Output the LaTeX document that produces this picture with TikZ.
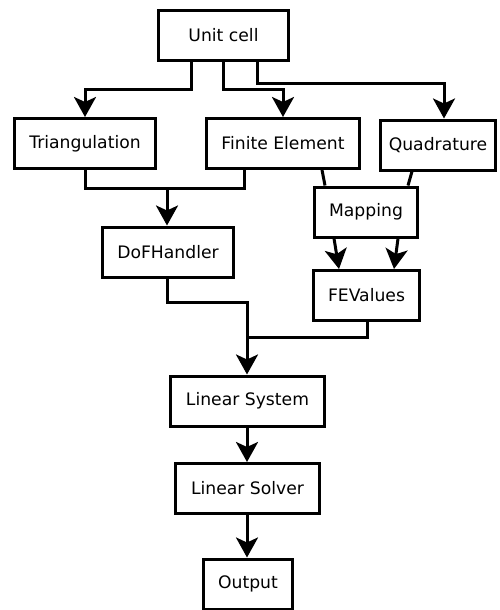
\documentclass[tikz,border=0pt]{standalone}
\usepackage{fontspec}
\setmainfont{DejaVu Sans}
\usetikzlibrary{arrows.meta}
\begin{document}
\begin{tikzpicture}[x=1pt,y=-1pt,
  box/.style={draw,line width=3pt,minimum height=50pt,inner sep=0pt,
    font=\fontsize{17.2pt}{20pt}\selectfont},
  link/.style={line width=3pt,line join=miter},
  arr/.style={link,-{Stealth[length=20pt,width=22pt,inset=5pt]}}]
\useasboundingbox (0,0) rectangle (499,610);
% boxes
\node[box,minimum width=130pt] (uc)  at (223.5,35.5) {Unit cell};
\node[box,minimum width=141pt] (tri) at (85,143.5)   {Triangulation};
\node[box,minimum width=153pt] (fe)  at (283,143.5)  {Finite Element};
\node[box,minimum width=115pt] (quad) at (438,145)   {Quadrature};
\node[box,minimum width=103pt] (map) at (366,212)    {Mapping};
\node[box,minimum width=131pt] (dof) at (168,252)    {DoFHandler};
\node[box,minimum width=106pt] (fev) at (366.5,295.5) {FEValues};
\node[box,minimum width=154pt] (ls)  at (247.5,401)  {Linear System};
\node[box,minimum width=144pt] (lsv) at (247.5,488.5) {Linear Solver};
\node[box,minimum width=89pt]  (out) at (248,584)    {Output};
% unit cell feeds the three inputs
\draw[arr] (191,0 |- uc.south) -- (191,89) -| (tri.north);
\draw[arr] (223,0 |- uc.south) -- (223,89) -| (fe.north);
\draw[arr] (257,0 |- uc.south) -- (257,83) -| (444,0 |- quad.north);
% triangulation + finite element -> DoF handler
\draw[link] (tri.south) |- (244,188) -- (244,0 |- fe.south);
\draw[arr] (167,188) -- (167,0 |- dof.north);
% finite element + quadrature -> mapping -> FEValues
\draw[link] (322,0 |- fe.south) -- (325,0 |- map.north);
\draw[link] (412,0 |- quad.south) -- (408,0 |- map.north);
\draw[arr] (334,0 |- map.south) -- (339,0 |- fev.north);
\draw[arr] (398,0 |- map.south) -- (394,0 |- fev.north);
% DoF handler + FEValues -> linear system
\draw[arr] (167,0 |- dof.south) |- (247,302) -- (247,0 |- ls.north);
\draw[link] (367,0 |- fev.south) |- (247,337);
% solve and output
\draw[arr] (247,0 |- ls.south) -- (247,0 |- lsv.north);
\draw[arr] (247,0 |- lsv.south) -- (247,0 |- out.north);
\end{tikzpicture}
\end{document}
